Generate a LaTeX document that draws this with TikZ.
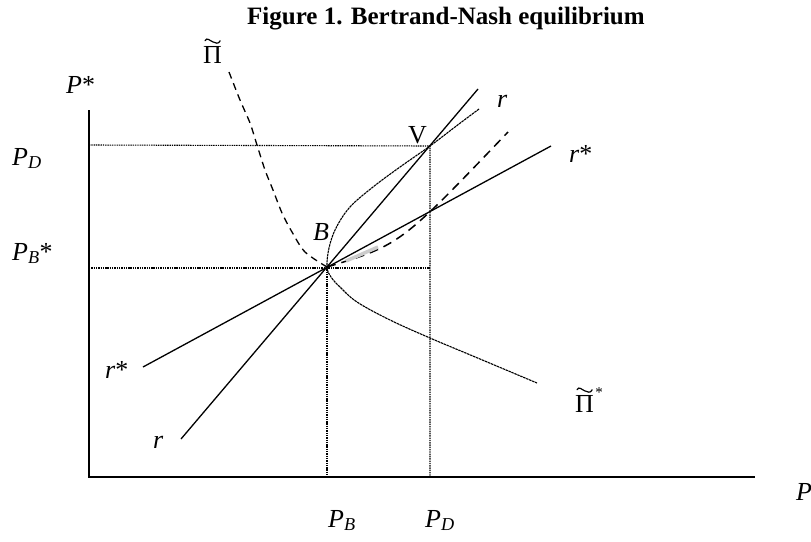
\documentclass[tikz,border=0pt]{standalone}
\usepackage{fontspec}
\setmainfont{Liberation Serif}
\newcommand{\lbl}[2]{\textit{#1}\textsubscript{\textit{#2}}}
\begin{document}
\begin{tikzpicture}[x=1pt,y=-1pt,
  axisline/.style={line width=1.4pt},
  guide/.style={line width=1.1pt, dash pattern=on 1.4pt off 0.9pt},
  react/.style={line width=1.3pt},
  pcurve/.style={line width=1.3pt, dash pattern=on 7pt off 5pt},
  iso/.style={line width=1.1pt, dash pattern=on 2.5pt off 0.7pt},
  dcurve/.style={line width=1.5pt, dash pattern=on 9pt off 6pt},
  tld/.style={line width=1.2pt, line cap=round},
  lab/.style={font=\fontsize{26}{30}\selectfont, inner sep=0pt, anchor=base west},
  ttl/.style={font=\bfseries\fontsize{25}{30}\selectfont, inner sep=0pt, anchor=base west}]
\useasboundingbox (0,0) rectangle (811,541);
% coordinates
\coordinate (O) at (89,477);
\coordinate (Ytop) at (89,110);
\coordinate (Xend) at (755,477);
\coordinate (B) at (327,267);
\coordinate (V) at (430,146);
\coordinate (PDy) at (89,145);
\coordinate (PBy) at (89,268);
\coordinate (PBx) at (327,477);
\coordinate (PDx) at (430,477);
\coordinate (PBr) at (430,268);
\coordinate (rlow) at (181,439);
\coordinate (rhigh) at (478,89);
\coordinate (slow) at (143,367);
\coordinate (shigh) at (551,146);
\coordinate (dend) at (508,132);
\coordinate (g1) at (346,261);
\coordinate (g2) at (378,247);
% title
\node[ttl] (title) at (247,24) {Figure 1. Bertrand-Nash equilibrium};
% axes
\draw[axisline] (Ytop) -- (O) -- (Xend);
% guides
\draw[guide] (PDy) -- (V) -- (PDx);
\draw[guide] (PBy) -- (PBr);
\draw[guide] (B) -- (PBx);
% reaction lines
\draw[react] (rlow) -- (rhigh);
\draw[react] (slow) -- (shigh);
% profit curve Pi tilde (dashed)
\draw[pcurve] plot[smooth] coordinates {(229,72) (240,100) (250,123) (257,145) (265,170) (273,190) (282,213) (292,232) (305,252) (B)};
% Pi tilde * curve (dotted)
\draw[iso] plot[smooth, tension=0.6] coordinates {(479,109) (455,127) (V) (400,167) (373,187) (350,207) (336,228) (329,248) (B) (331,277) (340,287) (357,302) (390,320) (430,338) (480,359) (537,383)};
% dashed curve from B
\draw[dcurve] (B) .. controls (400,245) .. (dend);
\draw[gray!40, line width=3.5pt] (g1) -- (g2);
% labels
\node[lab] (lPs) at (66,93) {\textit{P}*};
\node[lab] (lPi) at (203,63) {Π};
\draw[tld] ([xshift=2pt,yshift=5pt]lPi.north west) .. controls +(2,-4) and +(-3,-1) .. ([xshift=0pt,yshift=4pt]lPi.north) .. controls +(3,1) and +(-2,4) .. ([xshift=-2pt,yshift=5pt]lPi.north east);
\node[lab] (lPD) at (12,165) {\lbl{P}{D}};
\node[lab] (lPB) at (12,260) {\lbl{P}{B}*};
\node[lab] (lB) at (313,240) {\textit{B}};
\node[lab] (lV) at (408,143) {V};
\node[lab] (lr1) at (497,107) {\textit{r}};
\node[lab] (ls1) at (569,162) {\textit{r}*};
\node[lab] (ls2) at (105,378) {\textit{r}*};
\node[lab] (lr2) at (153,448) {\textit{r}};
\node[lab] (lPis) at (575,412) {Π};
\draw[tld] ([xshift=2pt,yshift=5pt]lPis.north west) .. controls +(2,-4) and +(-3,-1) .. ([xshift=0pt,yshift=4pt]lPis.north) .. controls +(3,1) and +(-2,4) .. ([xshift=-2pt,yshift=5pt]lPis.north east);
\node[lab, font=\fontsize{15}{18}\selectfont] (lPisstar) at ([xshift=1pt,yshift=-3pt]lPis.north east) {*};
\node[lab] (lPBx) at (328,527) {\lbl{P}{B}};
\node[lab] (lPDx) at (425,527) {\lbl{P}{D}};
\node[lab] (lP) at (796,500) {\textit{P}};
\end{tikzpicture}
\end{document}
